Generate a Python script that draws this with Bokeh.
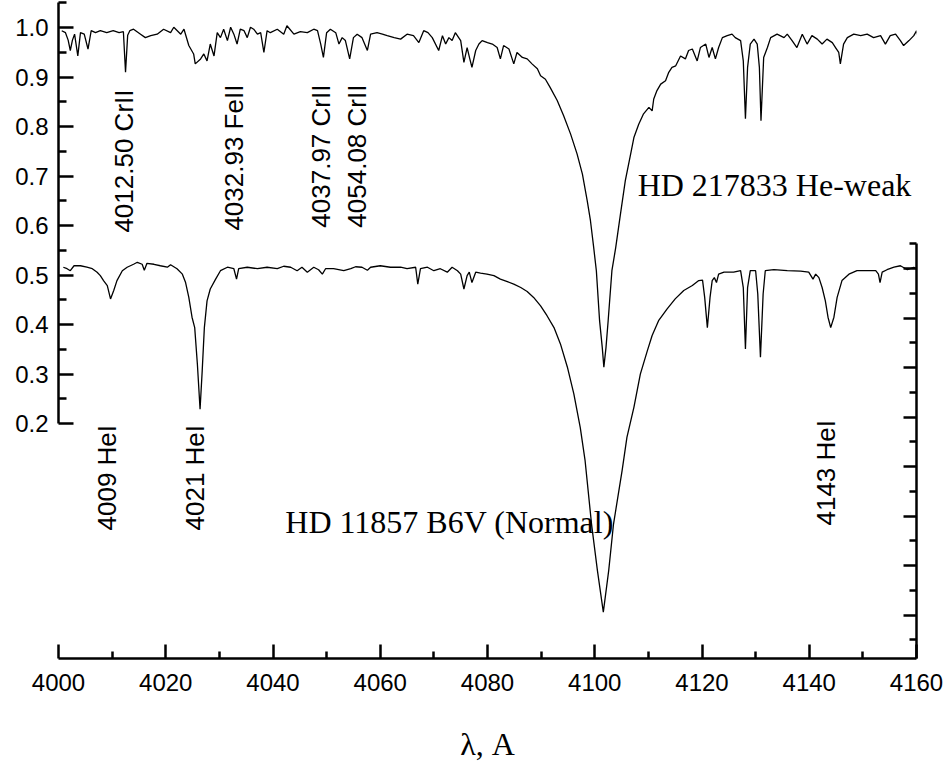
from bokeh.plotting import figure
from bokeh.models import Range1d, LinearAxis, FixedTicker, PrintfTickFormatter, CustomJSTickFormatter, ColumnDataSource
from bokeh.core.properties import value
from bokeh.embed import file_html
from bokeh.resources import INLINE

# ---------------- data ----------------
# HD 217833 (He-weak), plotted on the left axis
top_wl = [4000.6, 4001.3, 4001.8, 4002.2, 4002.6, 4003.0, 4003.6, 4004.1, 4004.8, 4005.5,
          4006.1, 4006.9, 4007.8, 4009.0, 4010.2, 4011.3, 4012.1, 4012.5, 4012.9, 4013.3,
          4014.0, 4015.3, 4016.2, 4017.2, 4018.4, 4019.6, 4020.9, 4021.5, 4022.8, 4023.4,
          4024.3, 4025.2, 4025.5, 4026.5, 4027.1, 4027.7, 4028.3, 4029.0, 4029.6, 4030.2,
          4030.8, 4031.5, 4032.1, 4032.7, 4033.3, 4033.9, 4034.6, 4035.2, 4035.8, 4036.4,
          4037.1, 4037.7, 4038.3, 4038.9, 4039.5, 4040.8, 4042.0, 4042.6, 4043.9, 4045.1,
          4046.4, 4047.6, 4048.3, 4048.9, 4049.4, 4050.0, 4050.7, 4051.7, 4052.3, 4052.9,
          4053.5, 4054.3, 4055.0, 4055.7, 4056.6, 4057.6, 4058.2, 4059.4, 4060.4, 4061.3,
          4062.6, 4063.8, 4065.0, 4066.2, 4067.2, 4068.1, 4068.9, 4069.7, 4070.9, 4071.6,
          4072.2, 4072.8, 4073.4, 4074.0, 4075.0, 4075.6, 4076.2, 4076.7, 4077.1, 4077.8,
          4078.4, 4079.0, 4080.0, 4080.9, 4081.8, 4082.4, 4083.0, 4084.0, 4084.9, 4085.5,
          4086.5, 4087.4, 4088.3, 4089.3, 4089.9, 4090.8, 4091.7, 4093.0, 4094.2, 4095.5,
          4096.7, 4097.7, 4098.6, 4099.2, 4099.8, 4100.3, 4100.9, 4101.4, 4101.7, 4102.1,
          4102.5, 4103.2, 4103.9, 4104.8, 4105.7, 4106.7, 4107.3, 4108.2, 4109.1, 4110.1,
          4110.7, 4111.0, 4111.6, 4112.3, 4113.2, 4113.8, 4114.4, 4115.1, 4116.0, 4116.9,
          4117.5, 4118.2, 4119.1, 4119.7, 4120.7, 4121.3, 4121.9, 4122.5, 4123.1, 4123.8,
          4124.7, 4125.6, 4126.2, 4127.2, 4127.7, 4128.1, 4128.5, 4129.0, 4129.7, 4130.3,
          4130.7, 4131.0, 4131.5, 4132.2, 4132.8, 4134.0, 4135.3, 4135.9, 4136.8, 4137.7,
          4138.7, 4139.6, 4140.5, 4141.5, 4142.4, 4143.3, 4144.3, 4144.9, 4145.5, 4145.8,
          4146.4, 4147.1, 4148.3, 4149.6, 4150.8, 4152.0, 4153.3, 4154.2, 4155.1, 4156.1,
          4157.0, 4157.6, 4158.6, 4159.5, 4160.0, 4160.7]
top_flux = [0.994, 0.990, 0.975, 0.954, 0.975, 0.987, 0.943, 0.990, 0.987, 0.957,
            0.994, 0.990, 0.994, 0.990, 0.994, 0.990, 0.992, 0.910, 0.985, 0.994,
            0.997, 0.987, 0.980, 0.984, 0.987, 0.997, 0.990, 1.001, 0.987, 0.997,
            0.964, 0.947, 0.927, 0.937, 0.947, 0.933, 0.967, 0.943, 0.990, 0.980,
            0.997, 0.974, 1.001, 0.987, 0.967, 0.997, 0.994, 0.980, 1.001, 0.997,
            0.987, 0.990, 0.950, 0.994, 0.990, 0.997, 0.987, 1.004, 0.987, 0.992,
            0.990, 0.997, 0.994, 0.967, 0.940, 0.990, 0.997, 0.990, 0.967, 0.980,
            0.974, 0.937, 0.980, 0.987, 0.980, 0.954, 0.987, 0.990, 0.987, 0.984,
            0.980, 0.977, 0.987, 0.984, 0.970, 0.994, 0.990, 0.980, 0.954, 0.984,
            0.967, 0.980, 0.974, 0.990, 0.974, 0.930, 0.960, 0.937, 0.920, 0.954,
            0.967, 0.974, 0.970, 0.967, 0.960, 0.937, 0.964, 0.957, 0.927, 0.950,
            0.940, 0.937, 0.927, 0.917, 0.903, 0.896, 0.879, 0.853, 0.822, 0.785,
            0.745, 0.704, 0.650, 0.610, 0.556, 0.509, 0.408, 0.354, 0.314, 0.354,
            0.408, 0.509, 0.555, 0.624, 0.691, 0.745, 0.778, 0.805, 0.826, 0.839,
            0.832, 0.856, 0.873, 0.886, 0.893, 0.910, 0.920, 0.923, 0.943, 0.937,
            0.954, 0.957, 0.933, 0.960, 0.967, 0.940, 0.960, 0.937, 0.960, 0.980,
            0.984, 0.987, 0.980, 0.974, 0.933, 0.816, 0.920, 0.967, 0.977, 0.967,
            0.920, 0.812, 0.940, 0.960, 0.980, 0.987, 0.980, 0.987, 0.974, 0.960,
            0.987, 0.967, 0.984, 0.977, 0.967, 0.977, 0.970, 0.960, 0.950, 0.927,
            0.967, 0.980, 0.987, 0.984, 0.987, 0.980, 0.984, 0.967, 0.984, 0.987,
            0.974, 0.964, 0.974, 0.984, 0.994, 0.964]

# HD 11857 B6V (Normal), plotted on the right axis
bot_wl = [4000.9, 4001.6, 4002.2, 4002.9, 4004.1, 4005.3, 4006.3, 4007.2, 4007.8, 4008.4,
          4009.1, 4009.7, 4010.3, 4010.9, 4011.9, 4012.8, 4014.0, 4014.7, 4015.6, 4016.0,
          4016.5, 4017.8, 4019.0, 4020.3, 4020.9, 4022.1, 4023.1, 4023.7, 4024.3, 4024.9,
          4025.4, 4025.9, 4026.4, 4026.8, 4027.2, 4027.7, 4028.3, 4029.3, 4030.2, 4031.5,
          4032.7, 4033.2, 4033.6, 4035.2, 4037.1, 4038.9, 4040.8, 4042.0, 4043.3, 4044.5,
          4045.4, 4046.4, 4047.6, 4048.5, 4049.2, 4049.8, 4051.3, 4053.2, 4054.5, 4055.4,
          4056.6, 4057.6, 4058.2, 4060.0, 4061.9, 4063.8, 4065.0, 4066.6, 4067.0, 4067.5,
          4068.8, 4070.0, 4071.2, 4072.5, 4073.4, 4074.4, 4075.0, 4075.6, 4076.2, 4076.6,
          4077.1, 4077.8, 4078.7, 4079.9, 4081.2, 4082.4, 4083.7, 4084.9, 4086.2, 4087.4,
          4088.6, 4089.9, 4091.1, 4092.4, 4093.6, 4094.9, 4096.1, 4097.3, 4098.2, 4099.4,
          4100.5, 4101.6, 4102.6, 4103.5, 4105.1, 4106.0, 4107.3, 4108.5, 4109.8, 4110.7,
          4111.9, 4113.5, 4115.0, 4116.6, 4118.2, 4119.4, 4120.1, 4120.5, 4121.0, 4121.5,
          4121.9, 4122.3, 4122.7, 4123.1, 4124.1, 4125.9, 4127.2, 4127.7, 4128.1, 4128.5,
          4129.0, 4130.0, 4130.4, 4130.9, 4131.4, 4131.8, 4133.4, 4135.9, 4138.4, 4139.9,
          4140.7, 4141.2, 4141.8, 4142.4, 4143.0, 4143.5, 4144.0, 4144.6, 4145.2, 4146.1,
          4147.4, 4148.9, 4150.8, 4152.4, 4152.9, 4153.2, 4153.6, 4154.5, 4155.8, 4157.0,
          4158.3, 4159.5, 4160.0]
bot_flux = [1.003, 1.000, 0.996, 1.006, 1.006, 1.003, 1.000, 0.993, 0.986, 0.976,
            0.966, 0.939, 0.956, 0.976, 0.996, 1.003, 1.009, 1.013, 1.009, 0.997,
            1.011, 1.009, 1.006, 1.003, 1.008, 1.000, 0.989, 0.972, 0.942, 0.902,
            0.881, 0.807, 0.716, 0.794, 0.881, 0.935, 0.959, 0.979, 0.996, 1.003,
            1.000, 0.979, 1.000, 1.003, 1.000, 1.003, 1.000, 1.005, 1.003, 0.996,
            1.003, 0.993, 1.003, 0.998, 0.989, 1.000, 1.000, 0.996, 1.000, 1.004,
            1.003, 0.997, 1.003, 1.006, 1.003, 1.003, 1.000, 1.003, 0.969, 1.000,
            1.003, 0.996, 1.000, 0.993, 1.003, 0.996, 0.989, 0.959, 0.986, 0.993,
            0.972, 0.993, 0.991, 0.989, 0.986, 0.979, 0.974, 0.969, 0.962, 0.954,
            0.942, 0.925, 0.905, 0.881, 0.848, 0.801, 0.747, 0.679, 0.612, 0.484,
            0.390, 0.306, 0.390, 0.484, 0.592, 0.659, 0.720, 0.787, 0.834, 0.865,
            0.895, 0.919, 0.939, 0.956, 0.966, 0.976, 0.977, 0.942, 0.881, 0.942,
            0.976, 0.982, 0.972, 0.989, 0.993, 0.993, 0.996, 0.962, 0.838, 0.962,
            0.996, 0.996, 0.949, 0.821, 0.949, 0.996, 0.998, 0.996, 0.995, 0.993,
            0.979, 0.989, 0.982, 0.962, 0.935, 0.902, 0.881, 0.902, 0.942, 0.976,
            0.989, 0.996, 0.996, 0.996, 0.989, 0.972, 0.993, 0.998, 1.003, 1.006,
            0.998, 1.003, 1.000]

# line identifications (rotated)
line_labels = ["4012.50 CrII", "4032.93 FeII", "4037.97 CrII", "4054.08 CrII",
               "4009 HeI", "4021 HeI", "4143 HeI"]
line_label_x = [4012.3, 4032.8, 4049.0, 4055.6, 4009.0, 4025.5, 4143.2]
line_label_y = [0.586, 0.590, 0.596, 0.596, -0.016, -0.016, -0.006]

# star names
star_labels = ["HD 217833 He-weak", "HD 11857 B6V (Normal)"]
star_label_x = [4108.0, 4042.3]
star_label_y = [0.683, 0.002]

x_major = [4000, 4020, 4040, 4060, 4080, 4100, 4120, 4140, 4160]
x_minor = [4010, 4030, 4050, 4070, 4090, 4110, 4130, 4150]
y_major = [0.2, 0.3, 0.4, 0.5, 0.6, 0.7, 0.8, 0.9, 1.0]
y_minor = [0.25, 0.35, 0.45, 0.55, 0.65, 0.75, 0.85, 0.95, 1.05]

# ---------------- figure ----------------
p = figure(width=944, height=764, output_backend="svg", toolbar_location=None,
           x_range=Range1d(4000, 4160), y_range=Range1d(-0.2747, 1.051),
           min_border_left=58, min_border_right=28, min_border_top=2, min_border_bottom=106,
           background_fill_color="white", border_fill_color="white")
p.outline_line_color = None
p.grid.visible = False
p.extra_y_ranges = {"bot": Range1d(0.2123, 1.538)}

AX_W = 2.5

xa = p.xaxis[0]
xa.bounds = (4000, 4160)
xa.ticker = FixedTicker(ticks=x_major, minor_ticks=x_minor)
xa.major_tick_in = 14
xa.major_tick_out = 0
xa.minor_tick_in = 7
xa.minor_tick_out = 0
xa.axis_line_width = AX_W
xa.major_tick_line_width = AX_W
xa.minor_tick_line_width = AX_W
xa.major_label_text_font = "Liberation Sans"
xa.major_label_text_font_size = "24px"
xa.major_label_text_color = "black"
xa.major_label_standoff = 15
xa.axis_label = "λ, A"
xa.axis_label_text_font = "Liberation Serif"
xa.axis_label_text_font_style = "normal"
xa.axis_label_text_font_size = "32px"
xa.axis_label_text_color = "black"
xa.axis_label_standoff = 32

ya = p.yaxis[0]
ya.bounds = (0.2, 1.05)
ya.ticker = FixedTicker(ticks=y_major, minor_ticks=y_minor)
ya.formatter = PrintfTickFormatter(format="%.1f")
ya.major_tick_in = 15
ya.major_tick_out = 0
ya.minor_tick_in = 8
ya.minor_tick_out = 0
ya.axis_line_width = AX_W
ya.major_tick_line_width = AX_W
ya.minor_tick_line_width = AX_W
ya.major_label_text_font = "Liberation Sans"
ya.major_label_text_font_size = "24px"
ya.major_label_text_color = "black"
ya.major_label_standoff = 10

ra = LinearAxis(y_range_name="bot", bounds=(0.2, 1.05),
                ticker=FixedTicker(ticks=y_major, minor_ticks=y_minor),
                formatter=CustomJSTickFormatter(code="return ''"),
                major_tick_in=13, major_tick_out=0, minor_tick_in=7, minor_tick_out=0,
                axis_line_width=AX_W, major_tick_line_width=AX_W, minor_tick_line_width=AX_W,
                major_label_standoff=0)
p.add_layout(ra, "right")

p.line(top_wl, top_flux, line_color="black", line_width=1.3)
p.line(bot_wl, bot_flux, line_color="black", line_width=1.3, y_range_name="bot")

src_lines = ColumnDataSource(dict(x=line_label_x, y=line_label_y, t=line_labels))
p.text(x="x", y="y", text="t", source=src_lines, angle=1.5707963, text_align="left",
       text_baseline="middle", text_font=value("Liberation Sans"), text_font_size="26px",
       text_color="black")

src_stars = ColumnDataSource(dict(x=star_label_x, y=star_label_y, t=star_labels))
p.text(x="x", y="y", text="t", source=src_stars, text_align="left",
       text_baseline="alphabetic", text_font=value("Liberation Serif"), text_font_size="32px",
       text_color="black")

open("out.html", "w").write(file_html(p, INLINE))
